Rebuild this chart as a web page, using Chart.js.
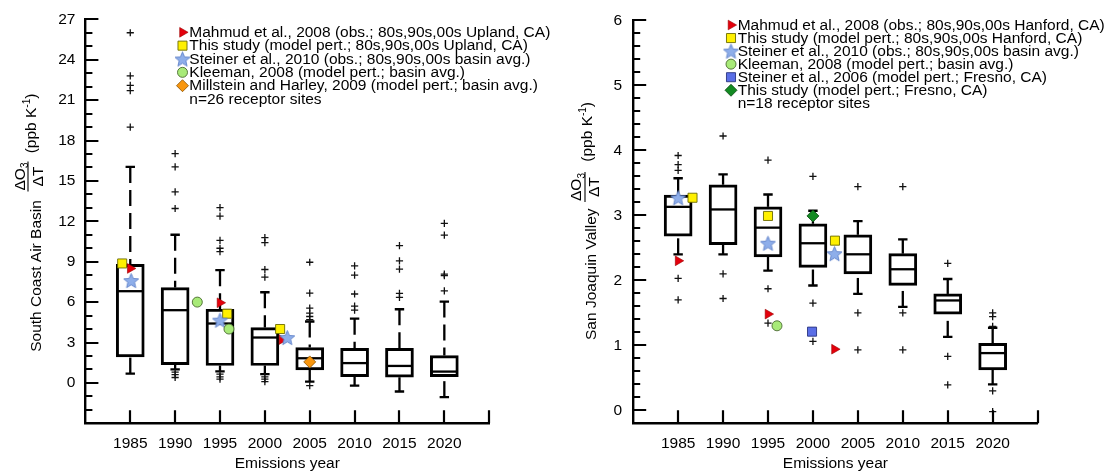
<!DOCTYPE html>
<html><head><meta charset="utf-8">
<script src="https://cdn.jsdelivr.net/npm/chart.js@4/dist/chart.umd.min.js"></script>
<style>
html,body{margin:0;padding:0;background:#fff;}
#wrap{position:relative;width:1108px;height:471px;overflow:hidden;}
canvas{position:absolute;top:0;}
#c1{left:0;} #c2{left:554px;}
</style></head><body>
<div id="wrap"><canvas id="c1" width="554" height="471"></canvas><canvas id="c2" width="554" height="471"></canvas></div>
<script>
// ---------- DATA ----------
const years = [1985, 1990, 1995, 2000, 2005, 2010, 2015, 2020];

// South Coast Air Basin (left panel)
const scabQ1  = [1.93, 1.36, 1.29, 1.29, 0.97, 0.47, 0.42, 0.47];
const scabMed = [6.81, 5.40, 4.41, 3.37, 1.83, 1.47, 1.26, 0.84];
const scabQ3  = [8.81, 7.08, 5.47, 4.11, 2.62, 2.56, 2.57, 2.03];
const scabLo  = [0.69, 1.00, 0.85, 0.65, 0.10, -0.20, -0.64, -1.06];
const scabHi  = [16.04, 11.00, 8.37, 6.73, 4.56, 4.77, 5.47, 6.04];
const scabOut = [
  [26.0, 22.8, 22.1, 21.7, 19.0],
  [17.03, 16.04, 14.18, 12.95, 0.80, 0.62, 0.40],
  [13.02, 12.38, 10.59, 10.0, 9.75, 0.65, 0.45, 0.28],
  [10.79, 10.42, 8.42, 7.85, 0.45, 0.28, 0.10],
  [8.96, 6.66, 5.55, 5.18, 4.93, 4.70, -0.20],
  [8.69, 8.0, 6.6, 5.7, 5.4],
  [10.2, 9.06, 8.45, 6.65, 6.35],
  [11.85, 10.97, 8.07, 7.97, 6.83]
];
const scabYTicks = [0, 3, 6, 9, 12, 15, 18, 21, 24, 27];
const scabMahmudX = [1985, 1995, 2001.9], scabMahmudY = [8.50, 5.95, 3.22];
const scabThisX   = [1984.1, 1995.8, 2001.7], scabThisY = [8.87, 5.14, 4.00];
const scabSteinX  = [1985.1, 1995.0, 2002.5], scabSteinY = [7.60, 4.66, 3.37];
const scabKleeX   = [1992.47, 1996.0], scabKleeY = [6.00, 4.00];
const scabMillX   = [2005], scabMillY = [1.56];

// San Joaquin Valley (right panel)
const sjvQ1  = [2.68, 2.55, 2.36, 2.20, 2.10, 1.92, 1.48, 0.62];
const sjvMed = [3.13, 3.09, 2.81, 2.57, 2.40, 2.17, 1.69, 0.88];
const sjvQ3  = [3.31, 3.47, 3.13, 2.87, 2.70, 2.41, 1.79, 1.03];
const sjvLo  = [2.40, 2.40, 2.15, 1.92, 1.79, 1.59, 1.13, 0.40];
const sjvHi  = [3.57, 3.63, 3.32, 3.07, 2.91, 2.63, 2.02, 1.27];
const sjvOut = [
  [3.92, 3.78, 3.69, 2.03, 1.70],
  [4.22, 2.10, 1.72],
  [3.85, 1.87, 1.34],
  [3.60, 1.65, 1.06],
  [3.44, 1.50, 0.93],
  [3.44, 1.50, 0.93],
  [2.26, 0.83, 0.39],
  [1.50, 1.44, 1.29, 0.30, -0.02]
];
const sjvYTicks = [0, 1, 2, 3, 4, 5, 6];
const sjvMahmudX = [1985, 1995, 2002.4], sjvMahmudY = [2.30, 1.48, 0.94];
const sjvThisX   = [1986.6, 1995, 2002.45], sjvThisY = [3.27, 2.99, 2.61];
const sjvSteinX  = [1985, 1995, 2002.4], sjvSteinY = [3.27, 2.57, 2.41];
const sjvKleeX   = [1996.0], sjvKleeY = [1.30];
const sjvStein06X = [1999.9], sjvStein06Y = [1.21];
const sjvFresnoX = [2000], sjvFresnoY = [2.99];

const scabLegend = [
  "Mahmud et al., 2008 (obs.; 80s,90s,00s Upland, CA)",
  "This study (model pert.; 80s,90s,00s Upland, CA)",
  "Steiner et al., 2010 (obs.; 80s,90s,00s basin avg.)",
  "Kleeman, 2008 (model pert.; basin avg.)",
  "Millstein and Harley, 2009 (model pert.; basin avg.)",
  "n=26 receptor sites"
];
const sjvLegend = [
  "Mahmud et al., 2008 (obs.; 80s,90s,00s Hanford, CA)",
  "This study (model pert.; 80s,90s,00s Hanford, CA)",
  "Steiner et al., 2010 (obs.; 80s,90s,00s basin avg.)",
  "Kleeman, 2008 (model pert.; basin avg.)",
  "Steiner et al., 2006 (model pert.; Fresno, CA)",
  "This study (model pert.; Fresno, CA)",
  "n=18 receptor sites"
];

// ---------- STYLES ----------
const FONT = '"Liberation Sans", Arial, Helvetica, sans-serif';
Chart.defaults.font.family = FONT;
function makeStar(r, fill, stroke) {
  const s = Math.ceil(r * 2 + 3);
  const c = document.createElement('canvas');
  c.width = s; c.height = s;
  const g = c.getContext('2d');
  const cx = s / 2, cy = s / 2 + r * 0.1;
  g.beginPath();
  for (let i = 0; i < 10; i++) {
    const a = -Math.PI / 2 + i * Math.PI / 5;
    const rr = (i % 2) ? r * 0.45 : r;
    g.lineTo(cx + rr * Math.cos(a), cy + rr * Math.sin(a));
  }
  g.closePath();
  g.fillStyle = fill; g.fill();
  g.lineWidth = 0.9; g.strokeStyle = stroke; g.stroke();
  return c;
}
const STAR = makeStar(7.8, '#8eaeea', '#5d80c8');
const MK = {
  tri:   {pointStyle: 'triangle', rotation: 90, radius: 5.6, backgroundColor: '#e4000c', borderColor: '#9a0000', borderWidth: 0.6},
  sq:    {pointStyle: 'rect', radius: 6.4, backgroundColor: '#fff000', borderColor: '#6b6b00', borderWidth: 0.9},
  star:  {pointStyle: STAR, radius: 8, backgroundColor: '#8eaeea', borderColor: '#5d80c8', borderWidth: 0},
  circ:  {pointStyle: 'circle', radius: 5, backgroundColor: '#a8ea78', borderColor: '#4a6a30', borderWidth: 0.9},
  odiam: {pointStyle: 'rectRot', radius: 6, backgroundColor: '#f8960e', borderColor: '#8a5200', borderWidth: 0.8},
  bsq:   {pointStyle: 'rect', radius: 6.4, backgroundColor: '#5a6ee6', borderColor: '#2b3580', borderWidth: 0.9},
  gdiam: {pointStyle: 'rectRot', radius: 6, backgroundColor: '#138a22', borderColor: '#0a4a12', borderWidth: 0.8}
};

function pts(xs, ys) { return xs.map((v, i) => ({x: v, y: ys[i]})); }
function outPts(out) {
  const a = [];
  out.forEach((arr, i) => arr.forEach(v => a.push({x: years[i], y: v})));
  return a;
}
function markerDs(label, xs, ys, st) {
  return Object.assign({type: 'scatter', label: label, data: pts(xs, ys), order: 0,
    pointHoverRadius: st.radius}, st, {pointStyle: st.pointStyle, pointRadius: st.radius, pointRotation: st.rotation || 0});
}

function drawMarker(ctx, st, x, y) {
  ctx.save();
  ctx.fillStyle = st.backgroundColor; ctx.strokeStyle = st.borderColor; ctx.lineWidth = st.borderWidth;
  Chart.helpers.drawPoint(ctx, {pointStyle: st.pointStyle, radius: st.radius, rotation: st.rotation || 0, borderWidth: st.borderWidth}, x, y);
  ctx.restore();
}
function rotText(ctx, txt, bx, yStart, font) {
  ctx.save(); ctx.font = font; ctx.translate(bx, yStart); ctx.rotate(-Math.PI / 2);
  ctx.textAlign = 'left'; ctx.textBaseline = 'alphabetic'; ctx.fillStyle = '#000';
  ctx.fillText(txt, 0, 0); ctx.restore();
}
function tw(ctx, txt, font) { ctx.save(); ctx.font = font; const w = ctx.measureText(txt).width; ctx.restore(); return w; }

const F15 = '15.5px ' + FONT, F10 = '10px ' + FONT;

function makePanel(P) {
  const off = P.offset;
  const plugin = {
    id: 'panel' + P.id,
    beforeDatasetsDraw(chart) {
      const {ctx, scales: {x, y}} = chart;
      ctx.save(); ctx.strokeStyle = '#000'; ctx.lineWidth = 2.3; ctx.lineCap = 'butt';
      P.years.forEach((yr, i) => {
        const px = x.getPixelForValue(yr);
        const q1 = y.getPixelForValue(P.q1[i]), q3 = y.getPixelForValue(P.q3[i]);
        const md = y.getPixelForValue(P.med[i]), lo = y.getPixelForValue(P.lo[i]), hi = y.getPixelForValue(P.hi[i]);
        ctx.setLineDash([16, 7]);
        ctx.beginPath(); ctx.moveTo(px, hi); ctx.lineTo(px, q3); ctx.stroke();
        ctx.beginPath(); ctx.moveTo(px, lo); ctx.lineTo(px, q1); ctx.stroke();
        ctx.setLineDash([]);
        ctx.beginPath();
        ctx.moveTo(px - 4.7, hi); ctx.lineTo(px + 4.7, hi);
        ctx.moveTo(px - 4.7, lo); ctx.lineTo(px + 4.7, lo);
        ctx.stroke();
        ctx.beginPath(); ctx.moveTo(px - 13.5, md); ctx.lineTo(px + 13.5, md); ctx.stroke();
      });
      ctx.restore();
    },
    afterDraw(chart) {
      const {ctx, scales: {x, y}, chartArea: ca} = chart;
      ctx.save();
      ctx.strokeStyle = '#000'; ctx.lineWidth = 2.2;
      // inner ticks on y axis
      ctx.beginPath();
      for (let v = P.yMin; v <= P.yMax + 1e-9; v += P.minorStep) {
        const vv = Math.round(v * 1000) / 1000;
        const py = Math.round(y.getPixelForValue(vv)) + 0.0;
        const major = Math.abs(vv / P.majorStep - Math.round(vv / P.majorStep)) < 1e-6;
        ctx.moveTo(ca.left, py); ctx.lineTo(ca.left + (major ? 13 : 7), py);
      }
      // inner ticks on x axis
      P.xTickVals.forEach(v => {
        const px = Math.round(x.getPixelForValue(v));
        ctx.moveTo(px, ca.bottom); ctx.lineTo(px, ca.bottom - 13);
      });
      ctx.stroke();

      // x title
      ctx.fillStyle = '#000'; ctx.font = F15; ctx.textAlign = 'center'; ctx.textBaseline = 'alphabetic';
      ctx.fillText('Emissions year', (ca.left + ca.right) / 2, 467.5);

      // y title
      const T = P.ytitle;
      const wMain = tw(ctx, T.main, F15);
      rotText(ctx, T.main, T.mainX - off, T.mainCY + wMain / 2, F15);
      const wDO = tw(ctx, '\u0394O', F15), w3 = tw(ctx, '3', F10);
      const numStart = T.fracCY + (wDO + w3) / 2;
      rotText(ctx, '\u0394O', T.numX - off, numStart, F15);
      rotText(ctx, '3', T.numX - off + 3.5, numStart - wDO, F10);
      ctx.save(); ctx.lineWidth = 1.1; ctx.beginPath();
      ctx.moveTo(T.barX - off, T.fracCY - 15); ctx.lineTo(T.barX - off, T.fracCY + 15); ctx.stroke(); ctx.restore();
      const wDT = tw(ctx, '\u0394T', F15);
      rotText(ctx, '\u0394T', T.denX - off, T.fracCY + wDT / 2, F15);
      const wP = tw(ctx, '(ppb K', F15), wS = tw(ctx, '-1', F10);
      rotText(ctx, '(ppb K', T.ppbX - off, T.ppbStart, F15);
      rotText(ctx, '-1', T.ppbX - off - 6, T.ppbStart - wP, F10);
      rotText(ctx, ')', T.ppbX - off, T.ppbStart - wP - wS, F15);

      // legend
      ctx.font = F15; ctx.textAlign = 'left'; ctx.textBaseline = 'middle'; ctx.fillStyle = '#000';
      P.legend.forEach((txt, i) => {
        const ly = P.legY0 + i * P.legDY;
        const st = P.legMarks[i];
        if (st) drawMarker(ctx, st, P.legMX - off, ly);
        ctx.fillStyle = '#000'; ctx.font = F15; ctx.textAlign = 'left'; ctx.textBaseline = 'middle';
        ctx.fillText(txt, P.legTX - off, ly + 0.5);
      });
      ctx.restore();
    }
  };

  const datasets = P.markers.map(m => markerDs(m.label, m.xs, m.ys, m.st));
  datasets.push({type: 'scatter', label: 'outliers', data: outPts(P.out), order: 5,
    pointStyle: 'cross', pointRadius: 3.6, borderColor: '#111', borderWidth: 1.3, backgroundColor: '#111'});
  datasets.push({type: 'bar', label: 'boxes', data: P.years.map((yr, i) => ({x: yr, y: [P.q1[i], P.q3[i]]})),
    backgroundColor: 'rgba(255,255,255,0)', borderColor: '#000', borderWidth: 2.3, borderSkipped: false,
    barThickness: 28, grouped: false, order: 10});

  return new Chart(document.getElementById(P.canvas), {
    type: 'bar',
    data: {datasets},
    options: {
      responsive: false, animation: false, events: [],
      layout: {padding: {left: 0, right: P.padRight, top: 19.3, bottom: 0}},
      plugins: {legend: {display: false}, tooltip: {enabled: false}},
      scales: {
        x: {
          type: 'linear', min: 1980, max: 2025, offset: false,
          afterBuildTicks: s => { s.ticks = P.years.map(v => ({value: v})); },
          afterFit: s => { s.height = 47.7; },
          grid: {display: false, drawTicks: false},
          border: {display: true, color: '#000', width: 2.4},
          ticks: {color: '#000', font: {size: 15.5, family: FONT}, padding: 11, maxRotation: 0, autoSkip: false,
            callback: v => String(v)}
        },
        y: {
          type: 'linear', min: P.yMin, max: P.yMax,
          afterBuildTicks: s => { s.ticks = P.yTicks.map(v => ({value: v})); },
          afterFit: s => { s.width = P.yWidth; },
          grid: {display: false, drawTicks: false},
          border: {display: true, color: '#000', width: 2.4},
          ticks: {color: '#000', font: {size: 15.5, family: FONT}, padding: P.yPad, autoSkip: false,
            callback: v => String(v)}
        }
      }
    },
    plugins: [plugin]
  });
}

makePanel({
  id: 1, canvas: 'c1', offset: 0,
  years, q1: scabQ1, med: scabMed, q3: scabQ3, lo: scabLo, hi: scabHi, out: scabOut,
  yMin: -3, yMax: 27, yTicks: scabYTicks, majorStep: 3, minorStep: 1,
  xTickVals: [1985, 1990, 1995, 2000, 2005, 2010, 2015, 2020, 2025],
  yWidth: 85.4, padRight: 554 - 489.2, yPad: 10,
  markers: [
    {label: 'Millstein', xs: scabMillX, ys: scabMillY, st: MK.odiam},
    {label: 'Kleeman', xs: scabKleeX, ys: scabKleeY, st: MK.circ},
    {label: 'Steiner 2010', xs: scabSteinX, ys: scabSteinY, st: MK.star},
    {label: 'Mahmud', xs: scabMahmudX, ys: scabMahmudY, st: MK.tri},
    {label: 'This study', xs: scabThisX, ys: scabThisY, st: MK.sq}
  ],
  legend: scabLegend, legMarks: [MK.tri, MK.sq, MK.star, MK.circ, MK.odiam, null],
  legMX: 182.5, legTX: 189.3, legY0: 32.3, legDY: 13.35,
  ytitle: {main: 'South Coast Air Basin', mainX: 41.3, mainCY: 276, numX: 24.5, barX: 28, denX: 42.5, fracCY: 176.5, ppbX: 35.5, ppbStart: 153.3}
});

makePanel({
  id: 2, canvas: 'c2', offset: 554,
  years, q1: sjvQ1, med: sjvMed, q3: sjvQ3, lo: sjvLo, hi: sjvHi, out: sjvOut,
  yMin: -0.2, yMax: 6, yTicks: sjvYTicks, majorStep: 1, minorStep: 0.2,
  xTickVals: [1985, 1990, 1995, 2000, 2005, 2010, 2015, 2020, 2025],
  yWidth: 633.2 - 554, padRight: 554 - (1037.6 - 554), yPad: 11,
  markers: [
    {label: 'Fresno', xs: sjvFresnoX, ys: sjvFresnoY, st: MK.gdiam},
    {label: 'Steiner 2006', xs: sjvStein06X, ys: sjvStein06Y, st: MK.bsq},
    {label: 'Kleeman', xs: sjvKleeX, ys: sjvKleeY, st: MK.circ},
    {label: 'Steiner 2010', xs: sjvSteinX, ys: sjvSteinY, st: MK.star},
    {label: 'Mahmud', xs: sjvMahmudX, ys: sjvMahmudY, st: MK.tri},
    {label: 'This study', xs: sjvThisX, ys: sjvThisY, st: MK.sq}
  ],
  legend: sjvLegend, legMarks: [MK.tri, MK.sq, MK.star, MK.circ, MK.bsq, MK.gdiam, null],
  legMX: 731, legTX: 737.7, legY0: 25, legDY: 13.05,
  ytitle: {main: 'San Joaquin Valley', mainX: 595.5, mainCY: 274.2, numX: 581, barX: 585, denX: 599, fracCY: 187, ppbX: 592, ppbStart: 161.7}
});
</script>
</body></html>
